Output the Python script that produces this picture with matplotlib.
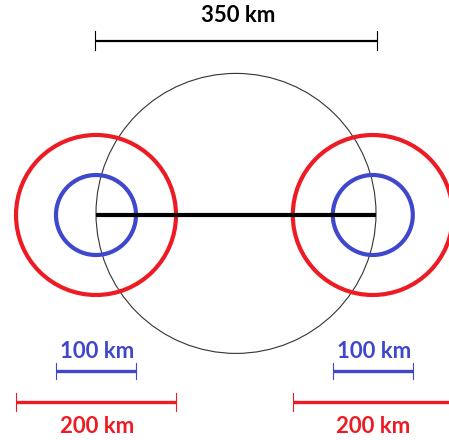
import matplotlib.pyplot as plt
from matplotlib.patches import Circle

# distances in km
distance = 350
centers = [0, 346]
red_radius = 100
blue_radius = 50
big_radius = distance / 2
bar_labels = ["350 km", "100 km", "200 km"]

RED = "#ED1C24"
BLUE = "#3F48CC"
px = 0.8  # pixels per km

fig = plt.figure(figsize=(4.49, 4.40), dpi=100)
ax = fig.add_axes([0, 0, 1, 1])
ax.set_xlim(-96 / px, (449 - 96) / px)
ax.set_ylim(-(440 - 215) / px, 215 / px)
ax.set_aspect("equal")
ax.axis("off")

# big circle through both centres
ax.add_patch(Circle((distance / 2, 2), big_radius, fill=False, color="#333333", lw=0.8))

for c in centers:
    ax.add_patch(Circle((c, 0), red_radius, fill=False, color=RED, lw=3.0))
    ax.add_patch(Circle((c, 0), blue_radius, fill=False, color=BLUE, lw=3.0))

# line between centres
ax.plot([0, distance], [0, 0], color="black", lw=3.0, solid_capstyle="butt")


def scalebar(x0, x1, y, color, lw, tick):
    ax.plot([x0, x1], [y, y], color=color, lw=lw, solid_capstyle="butt")
    for x in (x0, x1):
        ax.plot([x, x], [y - tick, y + tick], color=color, lw=0.8)


font = dict(family=["Lato", "DejaVu Sans"], fontweight="bold", fontsize=16,
            ha="center", va="center")

# top bar
scalebar(-1.5, distance + 1.5, 218, "black", 1.6, 12)
ax.text(distance / 2 + 2.5, 249, bar_labels[0], color="black", **font)

# blue and red bars under each circle pair
for c in centers:
    scalebar(c - blue_radius, c + blue_radius, -195, BLUE, 2.4, 10)
    ax.text(c + 2, -170, bar_labels[1], color=BLUE, **font)
    scalebar(c - red_radius, c + red_radius, -234, RED, 2.4, 11)
    ax.text(c + 1, -264, bar_labels[2], color=RED, **font)

fig.savefig("out.png", dpi=100)
